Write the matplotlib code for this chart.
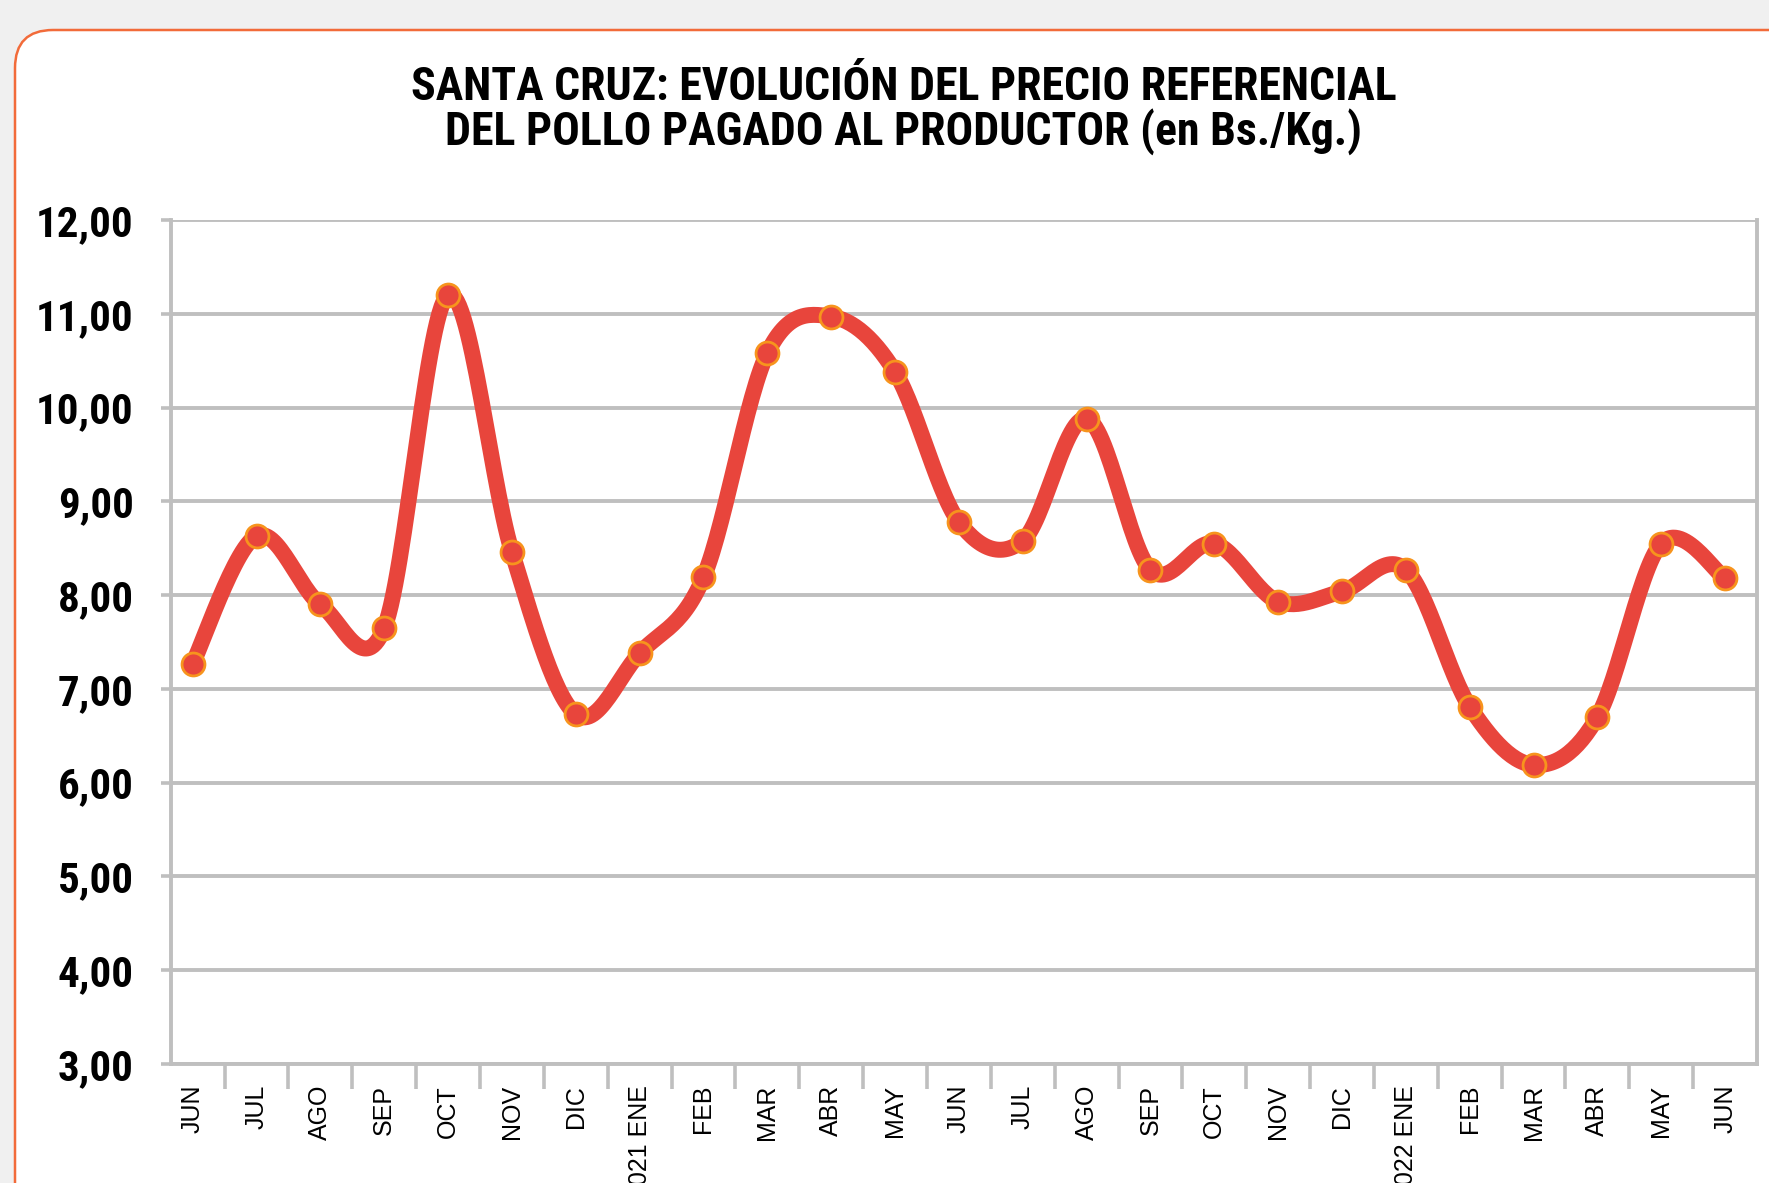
import matplotlib
matplotlib.use("Agg")
import matplotlib.pyplot as plt
from matplotlib.patches import FancyBboxPatch
from matplotlib.transforms import IdentityTransform
import numpy as np

# data
months = ["JUN", "JUL", "AGO", "SEP", "OCT", "NOV", "DIC", "2021 ENE", "FEB", "MAR",
          "ABR", "MAY", "JUN", "JUL", "AGO", "SEP", "OCT", "NOV", "DIC", "2022 ENE",
          "FEB", "MAR", "ABR", "MAY", "JUN"]
precio = [7.27, 8.63, 7.90, 7.65, 11.20, 8.46, 6.73, 7.38, 8.19, 10.58,
          10.97, 10.38, 8.78, 8.58, 9.88, 8.27, 8.55, 7.93, 8.04, 8.27,
          6.81, 6.19, 6.70, 8.55, 8.18]
yticks = [3, 4, 5, 6, 7, 8, 9, 10, 11, 12]

NARROW = ["Roboto Condensed", "Liberation Sans"]
RED = "#E8453C"
ORANGE = "#F7941D"
GRID = "#BFBFBF"

W, H = 1769, 1183
fig = plt.figure(figsize=(W / 100, H / 100), dpi=100, facecolor="#F0F0F0")

# rounded frame, runs off the right and bottom edges
frame = FancyBboxPatch((15, -200), 2200, H - 30 + 200,
                       boxstyle="round,pad=0,rounding_size=38",
                       transform=IdentityTransform(), facecolor="white",
                       edgecolor="#F26B3A", lw=1.8, zorder=-5)
fig.patches.append(frame)

ax = fig.add_axes([171 / W, 1 - 1064 / H, (1757 - 171) / W, (1064 - 220) / H])
ax.set_facecolor("white")

# smoothed line (bezier through the points, like the spreadsheet smoothing)
x = np.arange(len(precio), dtype=float)
y = np.array(precio)
px = np.concatenate([[x[0]], x, [x[-1]]])
py = np.concatenate([[y[0]], y, [y[-1]]])
t = np.linspace(0, 1, 30)
sx, sy = [], []
for i in range(1, len(px) - 2):
    p0 = np.array([px[i], py[i]])
    p3 = np.array([px[i + 1], py[i + 1]])
    p1 = p0 + (np.array([px[i + 1], py[i + 1]]) - np.array([px[i - 1], py[i - 1]])) / 6
    p2 = p3 - (np.array([px[i + 2], py[i + 2]]) - np.array([px[i], py[i]])) / 6
    b = ((1 - t) ** 3)[:, None] * p0 + (3 * (1 - t) ** 2 * t)[:, None] * p1 \
        + (3 * (1 - t) * t ** 2)[:, None] * p2 + (t ** 3)[:, None] * p3
    sx.extend(b[:, 0])
    sy.extend(b[:, 1])
ax.plot(sx, sy, color=RED, lw=11.5, solid_capstyle="round", zorder=3)
ax.plot(x, y, "o", ms=16.5, mfc=RED, mec=ORANGE, mew=2, zorder=4)

ax.set_xlim(-0.34, 24.5)
ax.set_ylim(3, 12)

ax.set_yticks(yticks)
ax.set_yticklabels([f"{v:.2f}".replace(".", ",") for v in yticks],
                   fontfamily=NARROW, fontweight="bold", fontsize=31)
ax.tick_params(axis="y", length=7, width=2.6, color=GRID, pad=20)
ax.yaxis.grid(True, color=GRID, lw=2.8)

ax.set_xticks(x)
ax.set_xticklabels(months, rotation=90, fontfamily="Liberation Sans", fontsize=18,
                   va="top", ha="center")
ax.set_xticks(np.arange(0.5, 24, 1), minor=True)
ax.tick_params(axis="x", which="major", length=0, pad=15)
ax.tick_params(axis="x", which="minor", length=18, width=2.6, color=GRID)

for side in ["left", "bottom", "right"]:
    ax.spines[side].set_color(GRID)
    ax.spines[side].set_linewidth(2.8)
ax.spines["top"].set_visible(False)
ax.set_axisbelow(True)

fig.text(0.511, 1 - 87 / H, "SANTA CRUZ: EVOLUCIÓN DEL PRECIO REFERENCIAL",
         ha="center", va="center", fontfamily=NARROW, fontweight="bold", fontsize=33)
fig.text(0.511, 1 - 132 / H, "DEL POLLO PAGADO AL PRODUCTOR (en Bs./Kg.)",
         ha="center", va="center", fontfamily=NARROW, fontweight="bold", fontsize=33)

fig.savefig("out.png", dpi=100, facecolor=fig.get_facecolor())
